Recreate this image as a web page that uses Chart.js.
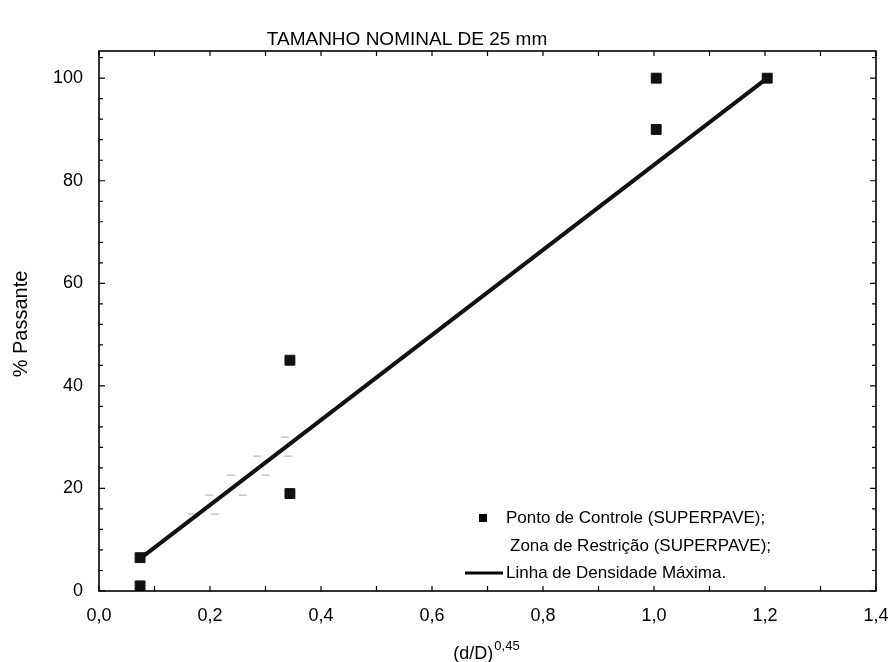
<!DOCTYPE html>
<html>
<head>
<meta charset="utf-8">
<script src="https://cdn.jsdelivr.net/npm/chart.js@4.4.0/dist/chart.umd.min.js"></script>
<style>
  html, body { margin: 0; padding: 0; background: #fff; }
  #wrap { width: 890px; height: 662px; position: relative; }
</style>
</head>
<body>
<div id="wrap"><canvas id="chart"></canvas></div>
<script>
// Data
const controlX = [0.074, 0.074, 0.344, 0.344, 1.004, 1.004, 1.204];
const controlY = [1, 6.5, 19, 45, 90, 100, 100];

const zoneUpperX = [0.168, 0.198, 0.238, 0.285, 0.335];
const zoneUpperY = [15.0, 18.7, 22.6, 26.3, 30.0];
const zoneLowerX = [0.209, 0.259, 0.301, 0.341];
const zoneLowerY = [15.0, 18.7, 22.6, 26.3];

const densityX = [0.074, 1.204];
const densityY = [6.3, 100];

const xTicks = [0, 0.2, 0.4, 0.6, 0.8, 1.0, 1.2, 1.4];
const yTicks = [0, 20, 40, 60, 80, 100];

const chartTitle = 'TAMANHO NOMINAL DE 25 mm';
const yTitle = '% Passante';
const xTitleBase = '(d/D)';
const xTitleSup = '0,45';

const FONT = "'Liberation Sans', Arial, sans-serif";

let toPoints = (xs, ys) => xs.map((x, i) => ({ x: x, y: ys[i] }));

// frame, inward ticks, titles and legend
const decorations = {
    id: 'decorations',
    afterDraw(chart) {
        const ctx = chart.ctx;
        const area = chart.chartArea;
        const xs = chart.scales.x;
        const ys = chart.scales.y;

        ctx.save();
        ctx.strokeStyle = '#000';
        ctx.lineWidth = 1.6;
        ctx.strokeRect(area.left, area.top, area.right - area.left, area.bottom - area.top);

        ctx.lineWidth = 1.2;
        ctx.beginPath();
        for (let v = 0; v <= 1.4001; v += 0.1) {
            const px = xs.getPixelForValue(v);
            ctx.moveTo(px, area.bottom);
            ctx.lineTo(px, area.bottom - 5);
            ctx.moveTo(px, area.top);
            ctx.lineTo(px, area.top + 5);
        }
        for (let v = 0; v <= ys.max; v += 4) {
            const py = ys.getPixelForValue(v);
            const len = v % 20 === 0 ? 6 : 4;
            ctx.moveTo(area.left, py);
            ctx.lineTo(area.left + len, py);
            ctx.moveTo(area.right, py);
            ctx.lineTo(area.right - len, py);
        }
        ctx.stroke();

        // titles
        ctx.fillStyle = '#000';
        ctx.textBaseline = 'middle';
        ctx.textAlign = 'center';
        ctx.font = '19px ' + FONT;
        ctx.fillText(chartTitle, 407, 40);

        ctx.save();
        ctx.translate(21, 324);
        ctx.rotate(-Math.PI / 2);
        ctx.font = '20px ' + FONT;
        ctx.fillText(yTitle, 0, 0);
        ctx.restore();

        ctx.font = '18px ' + FONT;
        const bw = ctx.measureText(xTitleBase).width;
        ctx.font = '13px ' + FONT;
        const sw = ctx.measureText(xTitleSup).width;
        const startX = 486 - (bw + sw) / 2;
        ctx.textAlign = 'left';
        ctx.font = '18px ' + FONT;
        ctx.fillText(xTitleBase, startX, 654);
        ctx.font = '13px ' + FONT;
        ctx.fillText(xTitleSup, startX + bw + 1, 646);

        // legend
        ctx.font = '17px ' + FONT;
        const rows = [518, 546, 573];
        chart.data.datasets.filter(d => d.inLegend).forEach((d, i) => {
            const y = rows[i];
            if (d.legendKind === 'square') {
                ctx.fillStyle = '#000';
                ctx.fillRect(479, y - 4, 8, 8);
            } else if (d.legendKind === 'line') {
                ctx.strokeStyle = '#000';
                ctx.lineWidth = 3;
                ctx.beginPath();
                ctx.moveTo(465, y);
                ctx.lineTo(503, y);
                ctx.stroke();
            }
            ctx.fillStyle = '#000';
            ctx.fillText(d.label, d.legendKind === 'none' ? 510 : 506, y);
        });
        ctx.restore();
    }
};

new Chart(document.getElementById('chart'), {
    type: 'scatter',
    data: {
        datasets: [
            {
                label: 'Ponto de Controle (SUPERPAVE);',
                data: toPoints(controlX, controlY),
                pointStyle: 'rect',
                pointRadius: 7,
                backgroundColor: '#111',
                borderColor: '#111',
                inLegend: true,
                legendKind: 'square',
                order: 1
            },
            {
                label: 'Zona de Restrição (SUPERPAVE);',
                data: toPoints(zoneUpperX, zoneUpperY),
                pointStyle: 'line',
                pointRadius: 4,
                borderWidth: 1,
                borderColor: '#aaa',
                inLegend: true,
                legendKind: 'none',
                order: 3
            },
            {
                label: 'Zona de Restrição inferior',
                data: toPoints(zoneLowerX, zoneLowerY),
                pointStyle: 'line',
                pointRadius: 4,
                borderWidth: 1,
                borderColor: '#aaa',
                order: 3
            },
            {
                label: 'Linha de Densidade Máxima.',
                type: 'line',
                data: toPoints(densityX, densityY),
                showLine: true,
                borderColor: '#111',
                borderWidth: 4,
                pointRadius: 0,
                fill: false,
                inLegend: true,
                legendKind: 'line',
                order: 2
            }
        ]
    },
    options: {
        responsive: true,
        maintainAspectRatio: false,
        animation: false,
        layout: { padding: { top: 51, right: 14, left: 0, bottom: 0 } },
        plugins: {
            legend: { display: false },
            title: { display: false },
            tooltip: { enabled: false }
        },
        scales: {
            x: {
                type: 'linear',
                min: 0,
                max: 1.4,
                grid: { display: false, drawTicks: false },
                border: { display: false },
                afterBuildTicks: s => { s.ticks = xTicks.map(v => ({ value: v })); },
                afterFit: s => {
                    s.height = 71;
                    s.paddingLeft = 0;
                    s.paddingRight = 0;
                },
                ticks: {
                    padding: 14,
                    color: '#000',
                    font: { family: FONT, size: 18 },
                    callback: v => v.toFixed(1).replace('.', ',')
                }
            },
            y: {
                type: 'linear',
                min: 0,
                max: 105.3,
                grid: { display: false, drawTicks: false },
                border: { display: false },
                afterBuildTicks: s => { s.ticks = yTicks.map(v => ({ value: v })); },
                afterFit: s => {
                    s.width = 99;
                    s.paddingTop = 0;
                    s.paddingBottom = 0;
                },
                ticks: {
                    padding: 16,
                    color: '#000',
                    font: { family: FONT, size: 18 },
                    callback: v => String(v)
                }
            }
        }
    },
    plugins: [decorations]
});
</script>
</body>
</html>
